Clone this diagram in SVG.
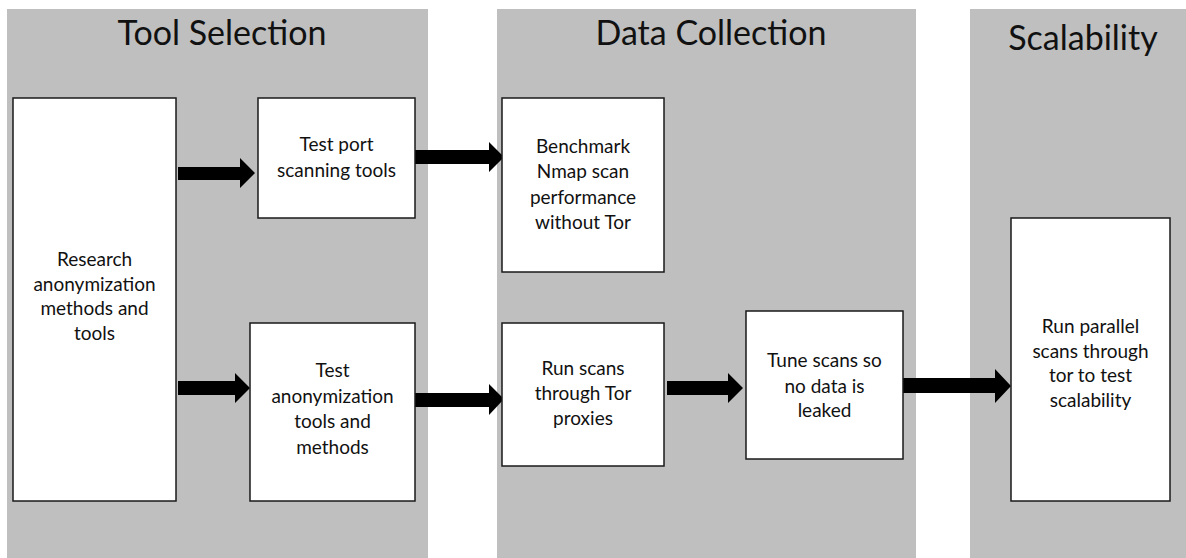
<svg xmlns="http://www.w3.org/2000/svg" width="1186" height="558" viewBox="0 0 1186 558">
<style>
.panel{fill:#bfbfbf;}
.box{fill:#ffffff;stroke:#1a1a1a;stroke-width:1.5;}
.title{font-family:Lato,"Open Sans",sans-serif;font-size:34px;fill:#111;text-anchor:middle;}
.lbl{font-family:Lato,"Open Sans",sans-serif;font-size:19px;fill:#111;text-anchor:middle;}
.arr{fill:#000;}
</style>
<g id="panels">
<g id="panel-tool-selection"><rect class="panel" x="7" y="9" width="421" height="549"/><text class="title" x="222" y="45">Tool Selection</text></g>
<g id="panel-data-collection"><rect class="panel" x="497" y="9" width="419" height="549"/><text class="title" x="711" y="45">Data Collection</text></g>
<g id="panel-scalability"><rect class="panel" x="970" y="9" width="216" height="549"/><text class="title" x="1083" y="50">Scalability</text></g>
</g>
<g id="connectors">
<polygon class="arr" points="178,167 240,167 240,158 255,173 240,188 240,180 178,180"/>
<polygon class="arr" points="178,381 235,381 235,373 250,388 235,403 235,395 178,395"/>
<polygon class="arr" points="415,150 489,150 489,142 504,157 489,172 489,164 415,164"/>
<polygon class="arr" points="413,393 489,393 489,384 504,399 489,415 489,407 413,407"/>
<polygon class="arr" points="667,381 728,381 728,373 743,388 728,403 728,395 667,395"/>
<polygon class="arr" points="903,378 995,378 995,369 1011,386 995,403 995,393 903,393"/>
</g>
<g id="node-research">
<rect class="box" x="13" y="98" width="163" height="403"/>
<text class="lbl"><tspan x="94.5" y="266">Research</tspan><tspan x="94.5" y="290.5">anonymization</tspan><tspan x="94.5" y="315">methods and</tspan><tspan x="94.5" y="339.5">tools</tspan></text>
</g>
<g id="node-test-port">
<rect class="box" x="258" y="98" width="157" height="120"/>
<text class="lbl"><tspan x="336.5" y="151">Test port</tspan><tspan x="336.5" y="177">scanning tools</tspan></text>
</g>
<g id="node-test-anon">
<rect class="box" x="250" y="323" width="165" height="178"/>
<text class="lbl"><tspan x="332.5" y="377">Test</tspan><tspan x="332.5" y="403">anonymization</tspan><tspan x="332.5" y="428">tools and</tspan><tspan x="332.5" y="454">methods</tspan></text>
</g>
<g id="node-benchmark">
<rect class="box" x="502" y="98" width="162" height="174"/>
<text class="lbl"><tspan x="583" y="153">Benchmark</tspan><tspan x="583" y="178">Nmap scan</tspan><tspan x="583" y="204">performance</tspan><tspan x="583" y="229">without Tor</tspan></text>
</g>
<g id="node-run-scans">
<rect class="box" x="502" y="323" width="162" height="143"/>
<text class="lbl"><tspan x="583" y="375">Run scans</tspan><tspan x="583" y="400">through Tor</tspan><tspan x="583" y="425">proxies</tspan></text>
</g>
<g id="node-tune-scans">
<rect class="box" x="746" y="311" width="157" height="148"/>
<text class="lbl"><tspan x="824.5" y="367">Tune scans so</tspan><tspan x="824.5" y="393">no data is</tspan><tspan x="824.5" y="417">leaked</tspan></text>
</g>
<g id="node-run-parallel">
<rect class="box" x="1011" y="218" width="159" height="283"/>
<text class="lbl"><tspan x="1090.5" y="333">Run parallel</tspan><tspan x="1090.5" y="358">scans through</tspan><tspan x="1090.5" y="382">tor to test</tspan><tspan x="1090.5" y="407">scalability</tspan></text>
</g>
</svg>
